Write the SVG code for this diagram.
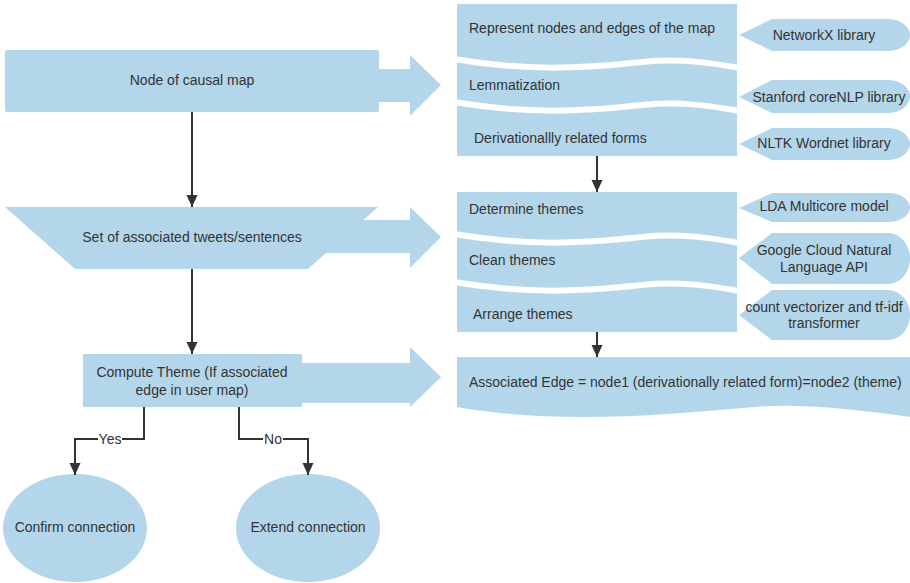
<svg xmlns="http://www.w3.org/2000/svg" width="910" height="583" viewBox="0 0 910 583">
<style>
.s{fill:#b3d6eb;stroke:none}
.d{fill:#b3d6eb;stroke:#ffffff;stroke-width:6;stroke-linejoin:miter}
.t{font-family:"Liberation Sans",Arial,sans-serif;font-size:14px;fill:#333333}
.m{text-anchor:middle}
.c{fill:none;stroke:#333333;stroke-width:2}
</style>
<defs>
<marker id="ah" markerUnits="userSpaceOnUse" markerWidth="12" markerHeight="12" refX="12" refY="5.5" orient="auto">
<path d="M0,0 L12,5.5 L0,11 Z" fill="#333333"/>
</marker>
</defs>
<rect width="910" height="583" fill="#ffffff"/>

<g id="node-causal-map">
<rect class="s" x="5" y="50" width="374" height="62" rx="2"/>
<polygon class="s" points="378,69 410,69 410,55 441,85 410,116 410,102 378,102"/>
<text class="t m" x="192" y="85">Node of causal map</text>
</g>

<g id="set-tweets">
<polygon class="s" points="5,207 378,207 308,269 75,269"/>
<polygon class="s" points="320,220 410,220 410,207 441,237 410,268 410,253 320,253"/>
<text class="t m" x="192" y="242">Set of associated tweets/sentences</text>
</g>

<g id="compute-theme">
<rect class="s" x="83" y="354" width="219" height="53"/>
<polygon class="s" points="300,363 410,363 410,347 441,377 410,407 410,403 300,403"/>
<text class="t m" x="192" y="377">Compute Theme (If associated</text>
<text class="t m" x="192" y="395">edge in user map)</text>
</g>

<g id="confirm">
<ellipse class="s" cx="75" cy="528" rx="72" ry="54"/>
<text class="t m" x="75" y="532">Confirm connection</text>
</g>

<g id="extend">
<ellipse class="s" cx="308" cy="528" rx="72" ry="54"/>
<text class="t m" x="308" y="532">Extend connection</text>
</g>

<g id="doc-derivational">
<path class="d" d="M454,95 H740 V159 H454 Z"/>
<text class="t" x="474" y="143">Derivationallly related forms</text>
</g>
<g id="doc-lemmatization">
<path class="d" d="M740,50 H454 V102 C524,114 577,112 642,105 C680,101 712,106 740,111 Z"/>
<text class="t" x="469" y="90">Lemmatization</text>
</g>
<g id="doc-represent">
<path class="d" d="M740,1 H454 V59 C524,71 577,69 642,62 C680,58 712,63 740,68 Z"/>
<text class="t" x="469" y="33">Represent nodes and edges of the map</text>
</g>

<g id="doc-arrange">
<path class="d" d="M454,275 H740 V335 H454 Z"/>
<text class="t" x="473" y="319">Arrange themes</text>
</g>
<g id="doc-clean">
<path class="d" d="M740,225 H454 V282 C524,294 577,292 642,285 C680,281 712,286 740,291 Z"/>
<text class="t" x="469" y="265">Clean themes</text>
</g>
<g id="doc-determine">
<path class="d" d="M740,189 H454 V234 C524,246 577,244 642,237 C680,233 712,238 740,243 Z"/>
<text class="t" x="469" y="214">Determine themes</text>
</g>

<g id="doc-associated-edge">
<path class="s" d="M457,357 H910 V417 C860,410 800,403 755,407 C660,415 560,425 457,407 Z"/>
<text class="t" x="469" y="387">Associated Edge = node1 (derivationally related form)=node2 (theme)</text>
</g>

<g id="call-networkx">
<path class="s" d="M739,35 L772,19 H888 A22,16 0 0 1 888,51 H772 Z"/>
<text class="t m" x="824" y="40">NetworkX library</text>
</g>
<g id="call-stanford">
<path class="s" d="M739,97 L772,80 H888 A22,16.5 0 0 1 888,113 H772 Z"/>
<text class="t m" x="829" y="102">Stanford coreNLP library</text>
</g>
<g id="call-nltk">
<path class="s" d="M739,144 L772,128 H888 A22,16 0 0 1 888,160 H772 Z"/>
<text class="t m" x="824" y="148">NLTK Wordnet library</text>
</g>
<g id="call-lda">
<path class="s" d="M739,208 L772,193 H888 A22,14.5 0 0 1 888,222 H772 Z"/>
<text class="t m" x="824" y="211">LDA Multicore model</text>
</g>
<g id="call-google">
<path class="s" d="M739,258 L772,233 H888 A22,25.5 0 0 1 888,284 H772 Z"/>
<text class="t m" x="824" y="255">Google Cloud Natural</text>
<text class="t m" x="824" y="272">Language API</text>
</g>
<g id="call-count">
<path class="s" d="M739,315 L772,290 H888 A22,25 0 0 1 888,340 H772 Z"/>
<text class="t m" x="824" y="312">count vectorizer and tf-idf</text>
<text class="t m" x="824" y="328">transformer</text>
</g>

<g id="connectors">
<path class="c" d="M192,112 V207" marker-end="url(#ah)"/>
<path class="c" d="M192,269 V354" marker-end="url(#ah)"/>
<path class="c" d="M597,156 V192" marker-end="url(#ah)"/>
<path class="c" d="M597,332 V357" marker-end="url(#ah)"/>
<path class="c" d="M144,407 V439 H75 V475" marker-end="url(#ah)"/>
<path class="c" d="M239,407 V439 H308 V475" marker-end="url(#ah)"/>
<rect x="98" y="431" width="24" height="16" fill="#ffffff"/>
<text class="t m" x="110" y="444">Yes</text>
<rect x="263" y="431" width="20" height="16" fill="#ffffff"/>
<text class="t m" x="273" y="444">No</text>
</g>
</svg>
